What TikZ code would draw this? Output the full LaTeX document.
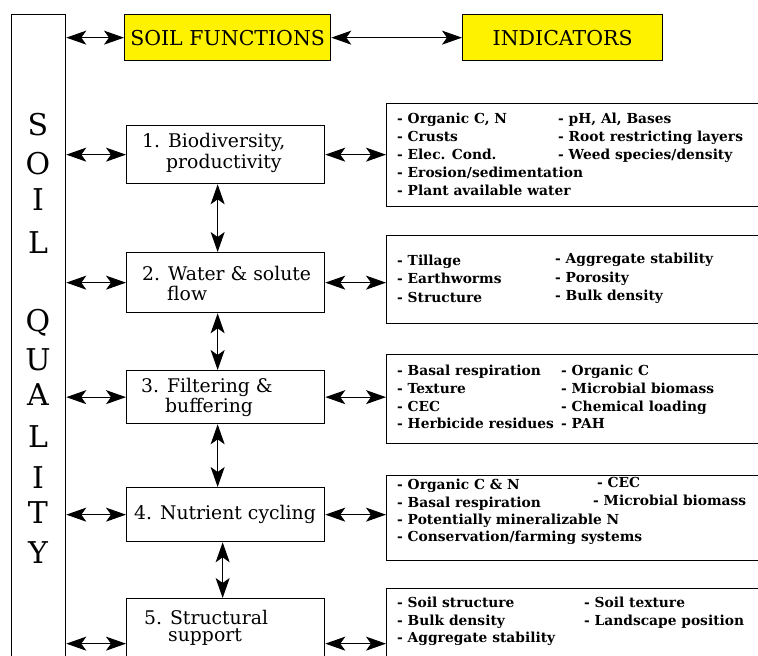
\documentclass[tikz,border=0pt]{standalone}
\usepackage{fontspec}
\setmainfont{DejaVu Serif}
\usetikzlibrary{arrows.meta}
\begin{document}
\begin{tikzpicture}[x=1pt,y=-1pt,
  box/.style={draw,line width=1.3pt,inner sep=0pt,anchor=north west},
  hl/.style={box,fill=yellow},
  tip/.tip={Stealth[length=20pt,width=14pt,inset=5pt]},
  dbl/.style={tip-tip,line width=1.1pt},
  ind/.style={anchor=base west,inner sep=0pt,font=\bfseries\fontsize{13.8}{17}\selectfont},
  fun/.style={anchor=base west,inner sep=0pt,font=\fontsize{18.8}{20}\selectfont},
  ltr/.style={inner sep=0pt,font=\fontsize{30}{30}\selectfont},
  head/.style={inner sep=0pt,font=\fontsize{20.5}{22}\selectfont}]
\clip (0,0) rectangle (758,656);
% left tall box
\node[box,minimum width=54pt,minimum height=700pt] (QL) at (11,14) {};
\foreach \l/\yy [count=\i] in {S/125,O/164,I/200,L/243,Q/323,U/360,A/395,L/437,I/478,T/513,Y/553}
  \node[ltr] (q\i) at (38,\yy) {\l};
% header boxes
\node[hl,minimum width=206pt,minimum height=46pt] (SF) at (124,14) {};
\node[head] (SFt) at (SF.center) {SOIL FUNCTIONS};
\node[hl,minimum width=200pt,minimum height=46pt] (IND) at (462,14) {};
\node[head] (INDt) at (IND.center) {INDICATORS};
% function boxes
\node[box,minimum width=198pt,minimum height=58pt] (f1) at (126,125) {};
\node[box,minimum width=198pt,minimum height=60pt] (f2) at (126,252) {};
\node[box,minimum width=198pt,minimum height=53pt] (f3) at (126,370) {};
\node[box,minimum width=198pt,minimum height=54pt] (f4) at (126,487) {};
\node[box,minimum width=198pt,minimum height=90pt] (f5) at (126,598) {};
\node[fun] (f1a) at (142,147) {1. Biodiversity,};
\node[fun] (f1b) at (166,168) {productivity};
\node[fun] (f2a) at (142,280) {2. Water \& solute};
\node[fun] (f2b) at (167,300) {flow};
\node[fun] (f3a) at (141,392) {3. Filtering \&};
\node[fun] (f3b) at (165,412) {buffering};
\node[fun] (f4a) at (134,519) {4. Nutrient cycling};
\node[fun] (f5a) at (144,624) {5. Structural};
\node[fun] (f5b) at (168,641) {support};
% indicator boxes
\node[box,minimum width=420pt,minimum height=103pt] (i1) at (386,103) {};
\node[box,minimum width=420pt,minimum height=88pt] (i2) at (386,235) {};
\node[box,minimum width=420pt,minimum height=89pt] (i3) at (386,354) {};
\node[box,minimum width=420pt,minimum height=85pt] (i4) at (386,475) {};
\node[box,minimum width=420pt,minimum height=120pt] (i5) at (386,588) {};
% indicator texts
\node[ind] (t11) at (397,123) {- Organic C, N};
\node[ind] (t12) at (397,141) {- Crusts};
\node[ind] (t13) at (397,159) {- Elec. Cond.};
\node[ind] (t14) at (397,177) {- Erosion/sedimentation};
\node[ind] (t15) at (397,195) {- Plant available water};
\node[ind] (t16) at (558,123) {- pH, Al, Bases};
\node[ind] (t17) at (558,141) {- Root restricting layers};
\node[ind] (t18) at (558,159) {- Weed species/density};
\node[ind] (t21) at (397,265) {- Tillage};
\node[ind] (t22) at (397,283) {- Earthworms};
\node[ind] (t23) at (397,302) {- Structure};
\node[ind] (t24) at (555,263) {- Aggregate stability};
\node[ind] (t25) at (555,282) {- Porosity};
\node[ind] (t26) at (555,300) {- Bulk density};
\node[ind] (t31) at (397,375) {- Basal respiration};
\node[ind] (t32) at (397,393) {- Texture};
\node[ind] (t33) at (397,411) {- CEC};
\node[ind] (t34) at (397,428) {- Herbicide residues};
\node[ind] (t35) at (561,375) {- Organic C};
\node[ind] (t36) at (561,393) {- Microbial biomass};
\node[ind] (t37) at (561,411) {- Chemical loading};
\node[ind] (t38) at (561,428) {- PAH};
\node[ind] (t41) at (397,489) {- Organic C \& N};
\node[ind] (t42) at (397,507) {- Basal respiration};
\node[ind] (t43) at (397,524) {- Potentially mineralizable N};
\node[ind] (t44) at (397,541) {- Conservation/farming systems};
\node[ind] (t45) at (597,487) {- CEC};
\node[ind] (t46) at (593,505) {- Microbial biomass};
\node[ind] (t51) at (397,607) {- Soil structure};
\node[ind] (t52) at (397,625) {- Bulk density};
\node[ind] (t53) at (397,642) {- Aggregate stability};
\node[ind] (t54) at (584,607) {- Soil texture};
\node[ind] (t55) at (584,625) {- Landscape position};
% connectors
\draw[dbl] (QL.east |- SF.west) -- (SF.west);
\draw[dbl] (SF.east) -- (IND.west);
\foreach \k in {1,...,5}{
  \draw[dbl] (QL.east |- f\k.west) -- (f\k.west);
  \draw[dbl] (f\k.east) -- (i\k.west |- f\k.east);
}
\draw[dbl] ([xshift=-8pt]f1.south) -- ([xshift=-8pt]f2.north);
\draw[dbl] ([xshift=-8pt]f2.south) -- ([xshift=-8pt]f3.north);
\draw[dbl] ([xshift=-8pt]f3.south) -- ([xshift=-8pt]f4.north);
\draw[dbl] ([xshift=-3pt]f4.south) -- ([xshift=-3pt]f5.north);
\end{tikzpicture}
\end{document}
